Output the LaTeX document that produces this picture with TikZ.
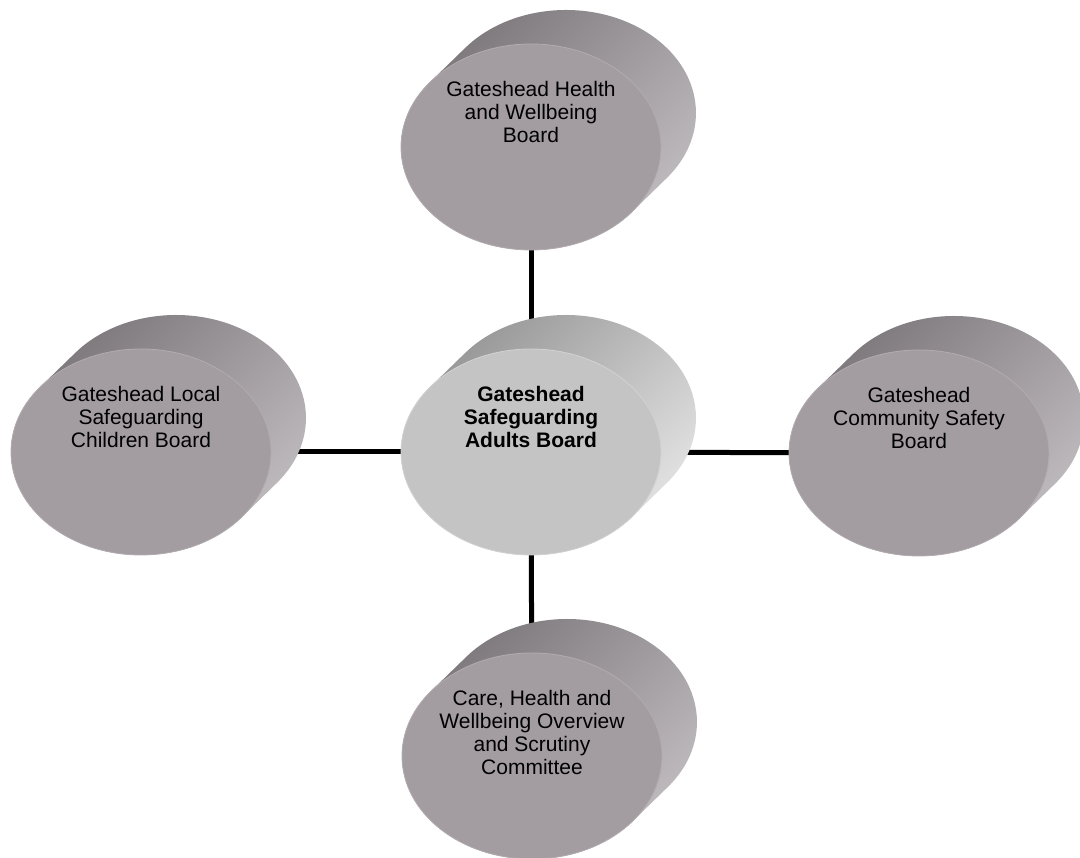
\documentclass[tikz,border=0pt]{standalone}
\usepackage{fontspec}
\setmainfont{Liberation Sans}
\usetikzlibrary{shapes.geometric}
\pgfdeclarelayer{bg}
\pgfsetlayers{bg,main}
\definecolor{frontgray}{RGB}{163,157,161}
\definecolor{rimgray}{RGB}{178,172,176}
\definecolor{sidedark}{RGB}{120,115,118}
\definecolor{sidelight}{RGB}{196,191,194}
\definecolor{cfront}{RGB}{196,196,196}
\definecolor{crim}{RGB}{210,210,210}
\definecolor{cdark}{RGB}{145,145,145}
\definecolor{clight}{RGB}{232,232,232}
\tikzset{
  sideplain/.style={top color=sidedark, bottom color=sidelight, shading angle=45},
  frontplain/.style={fill=frontgray, draw=rimgray, line width=0.8pt},
  sidecentre/.style={top color=cdark, bottom color=clight, shading angle=45},
  frontcentre/.style={fill=cfront, draw=crim, line width=0.8pt},
  hub/.style={ellipse, minimum width=260pt, minimum height=206pt, inner sep=0pt},
  lbl/.style={anchor=north, align=center, inner sep=0pt, font=\fontsize{21}{23}\selectfont},
  link/.style={line width=5pt, black}
}
\newcommand{\extruded}[4]{%
  \begin{scope}[shift={#2}]
    \path[#3] (135.7pt,-31.1pt) arc[start angle=-39.2, end angle=140.8, x radius=130pt, y radius=103pt]
      -- (-100.7pt,65.1pt) arc[start angle=140.8, end angle=320.8, x radius=130pt, y radius=103pt] -- cycle;
    \path[#4] (0,0) ellipse [x radius=130pt, y radius=103pt];
  \end{scope}
  \node[hub] (#1) at #2 {};
}
\begin{document}
\begin{tikzpicture}[x=1pt,y=1pt]
\useasboundingbox (0,0) rectangle (1080,858);
\extruded{top}{(531,711)}{sideplain}{frontplain}
\extruded{centre}{(531,406)}{sidecentre}{frontcentre}
\extruded{left}{(141,406)}{sideplain}{frontplain}
\extruded{right}{(919,405)}{sideplain}{frontplain}
\extruded{bottom}{(532,102)}{sideplain}{frontplain}
\node[lbl] (topt) at ([yshift=66pt]top.center) {Gateshead Health\\and Wellbeing\\Board};
\node[lbl, font=\fontsize{21}{23}\selectfont\bfseries] (centret) at ([yshift=66pt]centre.center) {Gateshead\\Safeguarding\\Adults Board};
\node[lbl] (leftt) at ([yshift=66pt]left.center) {Gateshead Local\\Safeguarding\\Children Board};
\node[lbl] (rightt) at ([yshift=66pt]right.center) {Gateshead\\Community Safety\\Board};
\node[lbl] (bottomt) at ([yshift=66pt]bottom.center) {Care, Health and\\Wellbeing Overview\\and Scrutiny\\Committee};
\begin{pgfonlayer}{bg}
\draw[link] (top.center) -- (centre.center);
\draw[link] (left.center) -- (centre.center);
\draw[link] (centre.center) -- (right.center);
\draw[link] (centre.center) -- (bottom.center);
\end{pgfonlayer}
\end{tikzpicture}
\end{document}
